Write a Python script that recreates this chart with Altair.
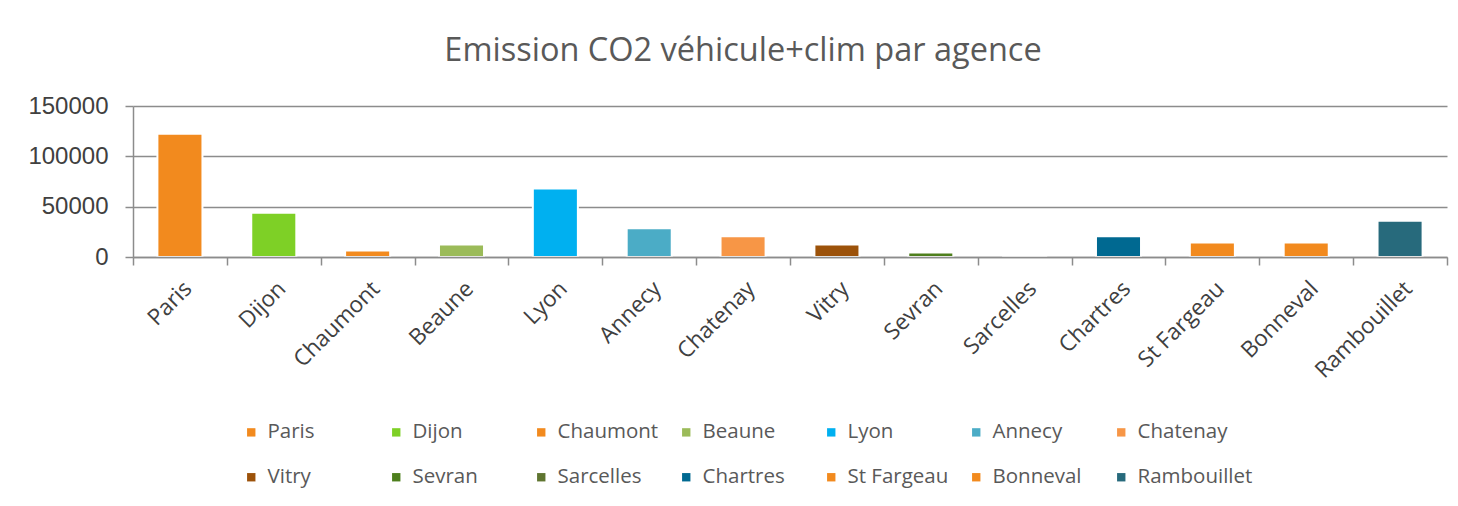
import altair as alt
import pandas as pd

agences = ["Paris", "Dijon", "Chaumont", "Beaune", "Lyon", "Annecy", "Chatenay",
           "Vitry", "Sevran", "Sarcelles", "Chartres", "St Fargeau", "Bonneval", "Rambouillet"]
emissions = [122500, 44000, 6500, 12500, 68000, 28500, 20500,
             12500, 4500, 0, 20500, 14500, 14500, 36000]
couleurs = ["#F28A1E", "#7ED026", "#F28A1E", "#9BBB59", "#00B0F0", "#4BACC6", "#F79646",
            "#9C520A", "#4E7F1D", "#5F7530", "#006991", "#F28A1E", "#F28A1E", "#276A7C"]
graduations = [0, 50000, 100000, 150000]
titre = "Emission CO2 véhicule+clim par agence"

df = pd.DataFrame({"agence": agences, "emission": emissions})

grey = "#8c8c8c"

chart = alt.Chart(df).mark_bar(
    width=alt.RelativeBandSize(0.48), stroke="white", strokeWidth=2
).encode(
    x=alt.X("agence:N", sort=agences,
            scale=alt.Scale(paddingInner=0, paddingOuter=0),
            axis=alt.Axis(title=None, labelAngle=-45, labelFont="Open Sans", labelFontSize=22.5,
                          labelColor="#404040", tickBand="extent", tickSize=8, tickWidth=1.5,
                          tickColor=grey, domainColor=grey, domainWidth=1.5, grid=False,
                          labelPadding=12, zindex=1)),
    y=alt.Y("emission:Q", scale=alt.Scale(domain=[0, 150000], nice=False),
            axis=alt.Axis(title=None, values=graduations, format="d", labelFont="Liberation Sans",
                          labelFontSize=24, labelColor="#404040", tickSize=8, tickWidth=1.5,
                          tickColor=grey, domainColor=grey, domainWidth=1.5, gridColor=grey,
                          gridWidth=1.5, labelPadding=17, zindex=0)),
    color=alt.Color("agence:N", sort=agences,
                    scale=alt.Scale(domain=agences, range=couleurs),
                    legend=alt.Legend(title=None, orient="none", legendX=108, legendY=316,
                                      direction="horizontal", columns=7, symbolType="square",
                                      symbolSize=70, symbolStrokeWidth=0, labelFont="Open Sans",
                                      labelFontSize=20.5, labelColor="#595959", labelOffset=6,
                                      columnPadding=3, rowPadding=24, gridAlign="all",
                                      labelLimit=300)),
).properties(
    width=1314, height=151,
    title=alt.TitleParams(titre, font="Open Sans", fontSize=32.5, color="#595959",
                          fontWeight="normal", anchor="middle", dx=-47, offset=27),
    autosize=alt.AutoSizeParams(type="none"),
    padding={"left": 125, "top": 98, "right": 3, "bottom": 241},
).configure_view(stroke=None)

chart.save("out.html", embed_options={"renderer": "svg", "actions": False})
